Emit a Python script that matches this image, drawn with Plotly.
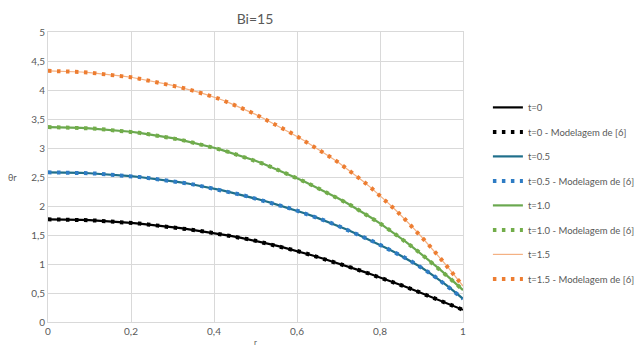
import plotly.graph_objects as go

r = [round(i * 0.02, 2) for i in range(51)]

t0 = [1.770,1.770,1.768,1.765,1.761,1.755,1.748,1.740,1.731,1.721,1.710,1.697,1.683,1.668,1.652,1.635,1.617,1.598,1.578,1.557,1.535,1.511,1.485,1.458,1.430,1.400,1.368,1.334,1.299,1.263,1.225,1.185,1.143,1.100,1.056,1.010,0.964,0.917,0.869,0.820,0.770,0.718,0.665,0.611,0.556,0.500,0.444,0.387,0.329,0.270,0.210]
t05 = [2.580,2.580,2.578,2.575,2.571,2.565,2.557,2.548,2.538,2.527,2.515,2.500,2.484,2.467,2.449,2.430,2.408,2.384,2.358,2.330,2.300,2.269,2.236,2.202,2.167,2.130,2.091,2.050,2.008,1.965,1.920,1.872,1.821,1.768,1.713,1.655,1.595,1.532,1.467,1.400,1.330,1.260,1.186,1.108,1.026,0.940,0.844,0.742,0.634,0.520,0.400]
t10 = [3.360,3.359,3.356,3.352,3.347,3.340,3.330,3.319,3.307,3.294,3.280,3.261,3.240,3.218,3.195,3.170,3.141,3.110,3.077,3.042,3.005,2.964,2.921,2.876,2.829,2.780,2.725,2.667,2.607,2.545,2.480,2.414,2.346,2.276,2.204,2.130,2.051,1.968,1.882,1.793,1.700,1.602,1.500,1.394,1.284,1.170,1.053,0.932,0.808,0.681,0.550]
t15 = [4.330,4.328,4.324,4.318,4.310,4.300,4.287,4.272,4.256,4.239,4.220,4.195,4.168,4.140,4.111,4.080,4.045,4.007,3.967,3.925,3.880,3.827,3.770,3.710,3.647,3.580,3.510,3.436,3.360,3.282,3.200,3.116,3.029,2.939,2.846,2.750,2.646,2.537,2.423,2.304,2.180,2.050,1.914,1.772,1.624,1.470,1.310,1.145,0.975,0.800,0.620]

series = [
    ("t=0", t0, "#000000", "#000000", 2.2),
    ("t=0.5", t05, "#1F6F8B", "#2E7CC4", 2.2),
    ("t=1.0", t10, "#6AA84F", "#72AD4A", 2.2),
    ("t=1.5", t15, "#F4B183", "#ED7D31", 1.2),
]
ref_names = ["t=0 - Modelagem de [6]", "t=0.5 - Modelagem de [6]",
             "t=1.0 - Modelagem de [6]", "t=1.5 - Modelagem de [6]"]

fig = go.Figure()
for i, (name, vals, lc, dc, lw) in enumerate(series):
    fig.add_trace(go.Scatter(x=r, y=vals, mode="lines", name=name,
                             legendgroup=f"g{2*i}",
                             line=dict(color=lc, width=lw)))
    fig.add_trace(go.Scatter(x=r, y=vals, mode="lines", name=ref_names[i],
                             legendgroup=f"g{2*i+1}",
                             line=dict(color=dc, width=4, dash="3.5px,5.5px")))

fig.update_layout(
    width=643, height=347,
    margin=dict(l=48, r=180, t=32, b=25, autoexpand=False),
    paper_bgcolor="white", plot_bgcolor="white",
    separators=", ",
    font=dict(family="Lato, Open Sans, sans-serif", color="#595959", size=10),
    title=dict(text="Bi=15", x=(48 + 207) / 643, xanchor="center", y=0.945, yanchor="middle",
               font=dict(size=14, color="#595959")),
    showlegend=True,
    legend=dict(x=1.06, y=0.79, xanchor="left", yanchor="top",
                font=dict(size=9.5, color="#595959"),
                tracegroupgap=5.5, itemwidth=30, bgcolor="rgba(0,0,0,0)"),
    xaxis=dict(range=[0, 1], dtick=0.2, showgrid=True, gridcolor="#D9D9D9",
               showline=True, linecolor="#D9D9D9", mirror=True, zeroline=False,
               tickfont=dict(size=10, color="#595959"), ticks="", tickformat=".1~f"),
    yaxis=dict(range=[0, 5], dtick=0.5, showgrid=True, gridcolor="#D9D9D9",
               showline=True, linecolor="#D9D9D9", mirror=True, zeroline=False,
               tickfont=dict(size=10, color="#595959"), ticks="", tickformat=".1~f"),
    annotations=[
        dict(text="θr", x=-0.085, y=2.5, xref="paper", yref="y", showarrow=False,
             font=dict(size=9, color="#595959"), xanchor="center"),
        dict(text="r", x=0.5, y=-0.045, xref="x", yref="paper", showarrow=False,
             yanchor="top", font=dict(size=8, color="#595959")),
    ],
)

fig.write_html("out.html")
